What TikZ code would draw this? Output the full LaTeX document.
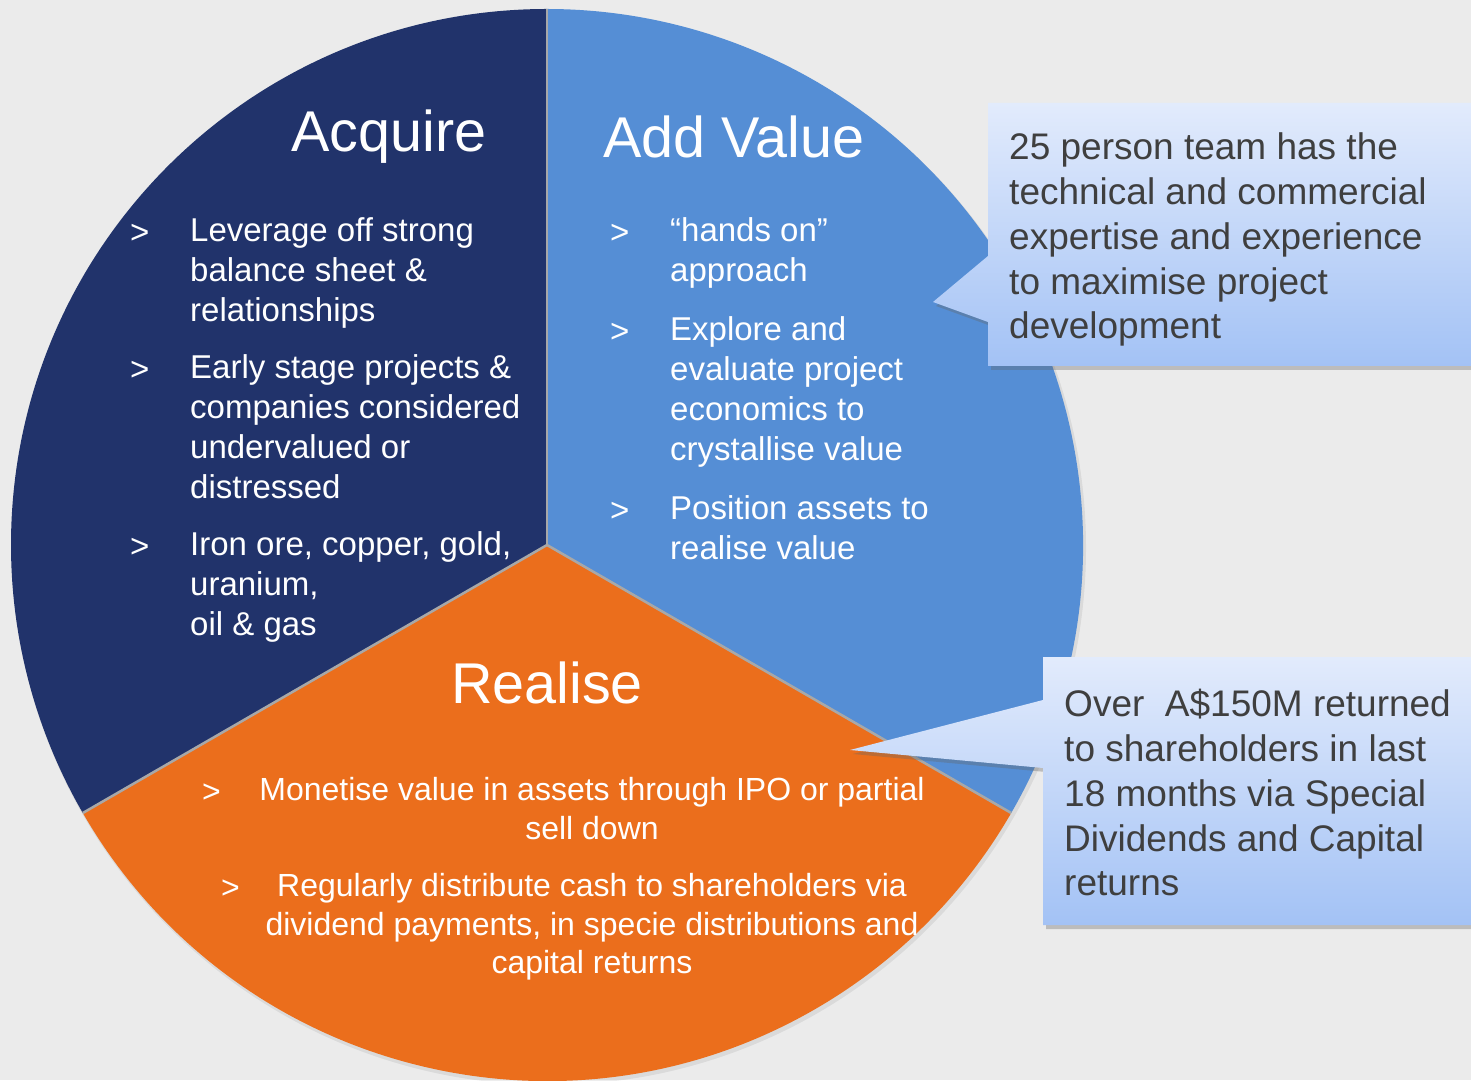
\documentclass[tikz,border=0pt]{standalone}
\usepackage{fontspec}
\setmainfont{Liberation Sans}
\usetikzlibrary{shadows}
\definecolor{bgc}{HTML}{EBEBEB}
\definecolor{navy}{HTML}{21336B}
\definecolor{addblue}{HTML}{558ED5}
\definecolor{orng}{HTML}{EB6E1C}
\definecolor{sepc}{HTML}{A8A8A8}
\definecolor{calltop}{HTML}{E2EBFC}
\definecolor{callbot}{HTML}{A3C2F5}
\definecolor{calltext}{HTML}{3F3F3F}
\tikzset{
  txt/.style={inner sep=0pt, text=white, font=\fontsize{33}{40}\selectfont},
  rtxt/.style={inner sep=0pt, text=white, font=\fontsize{32}{39}\selectfont},
  ttl/.style={inner sep=0pt, text=white, font=\fontsize{57.5}{60}\selectfont},
  ctxt/.style={inner sep=0pt, text=calltext, font=\fontsize{37}{45}\selectfont},
  sepline/.style={draw=sepc, line width=2.5pt},
  callout/.style={top color=calltop, bottom color=callbot, draw=none,
    drop shadow={shadow xshift=3pt, shadow yshift=-4pt, opacity=0.35, fill=black!60}},
}
\begin{document}
\begin{tikzpicture}[x=1pt,y=1pt]
\useasboundingbox (0,0) rectangle (1471,1080);
\fill[bgc] (0,0) rectangle (1471,1080);

% pie
\coordinate (C) at (547,535);
\path (C) ++(90:536) coordinate (P90);
\path (C) ++(210:536) coordinate (P210);
\path (C) ++(330:536) coordinate (P330);
\fill[black, opacity=0.07] (549,532) circle (537);
\fill[navy] (C) -- (P90) arc[start angle=90, end angle=210, radius=536] -- cycle;
\fill[addblue] (C) -- (P330) arc[start angle=-30, end angle=90, radius=536] -- cycle;
\fill[orng] (C) -- (P210) arc[start angle=210, end angle=330, radius=536] -- cycle;
\draw[sepline] (C) -- (P90);
\draw[sepline] (C) -- (P210);
\draw[sepline] (C) -- (P330);

% titles
\node[ttl, anchor=base west] (tacq) at (291,928) {Acquire};
\node[ttl, anchor=base west] (tadd) at (603,922) {Add Value};
\node[ttl, anchor=base] (trea) at (547,377) {Realise};

% Acquire bullets
\node[txt, anchor=base west] (ab1) at (130,836) {>};
\node[txt, anchor=base west] (a1) at (190,838) {Leverage off strong};
\node[txt, anchor=base west] (a2) at (190,798) {balance sheet \&};
\node[txt, anchor=base west] (a3) at (190,758) {relationships};
\node[txt, anchor=base west] (ab2) at (130,699) {>};
\node[txt, anchor=base west] (a4) at (190,701) {Early stage projects \&};
\node[txt, anchor=base west] (a5) at (190,661) {companies considered};
\node[txt, anchor=base west] (a6) at (190,621) {undervalued or};
\node[txt, anchor=base west] (a7) at (190,581) {distressed};
\node[txt, anchor=base west] (ab3) at (130,522) {>};
\node[txt, anchor=base west] (a8) at (190,524) {Iron ore, copper, gold,};
\node[txt, anchor=base west] (a9) at (190,485) {uranium,};
\node[txt, anchor=base west] (a10) at (190,445) {oil \& gas};

% Add Value bullets
\node[txt, anchor=base west] (vb1) at (610,836) {>};
\node[txt, anchor=base west] (v1) at (670,838) {“hands on”};
\node[txt, anchor=base west] (v2) at (670,798) {approach};
\node[txt, anchor=base west] (vb2) at (610,737) {>};
\node[txt, anchor=base west] (v3) at (670,739) {Explore and};
\node[txt, anchor=base west] (v4) at (670,699) {evaluate project};
\node[txt, anchor=base west] (v5) at (670,659) {economics to};
\node[txt, anchor=base west] (v6) at (670,619) {crystallise value};
\node[txt, anchor=base west] (vb3) at (610,558) {>};
\node[txt, anchor=base west] (v7) at (670,560) {Position assets to};
\node[txt, anchor=base west] (v8) at (670,520) {realise value};

% Realise bullets
\node[rtxt, anchor=base west] (rb1) at (202,278) {>};
\node[rtxt, anchor=base] (r1) at (592,280) {Monetise value in assets through IPO or partial};
\node[rtxt, anchor=base] (r2) at (592,241) {sell down};
\node[rtxt, anchor=base west] (rb2) at (221,182) {>};
\node[rtxt, anchor=base] (r3) at (592,184) {Regularly distribute cash to shareholders via};
\node[rtxt, anchor=base] (r4) at (592,145) {dividend payments, in specie distributions and};
\node[rtxt, anchor=base] (r5) at (592,107) {capital returns};

% callout 1
\path[callout] (1471,977) -- (988,977) -- (988,824) -- (933,778) -- (988,758) -- (988,714) -- (1471,714) -- cycle;
\node[ctxt, anchor=base west] (c1) at (1009,920) {25 person team has the};
\node[ctxt, anchor=base west] (c2) at (1009,875) {technical and commercial};
\node[ctxt, anchor=base west] (c3) at (1009,830) {expertise and experience};
\node[ctxt, anchor=base west] (c4) at (1009,785) {to maximise project};
\node[ctxt, anchor=base west] (c5) at (1009,741) {development};

% callout 2
\path[callout] (1471,423) -- (1043,423) -- (1043,380) -- (850,330) -- (1043,312) -- (1043,155) -- (1471,155) -- cycle;
\node[ctxt, anchor=base west] (d1) at (1064,364) {Over\ \ A\$150M returned};
\node[ctxt, anchor=base west] (d2) at (1064,319) {to shareholders in last};
\node[ctxt, anchor=base west] (d3) at (1064,274) {18 months via Special};
\node[ctxt, anchor=base west] (d4) at (1064,229) {Dividends and Capital};
\node[ctxt, anchor=base west] (d5) at (1064,185) {returns};
\end{tikzpicture}
\end{document}
